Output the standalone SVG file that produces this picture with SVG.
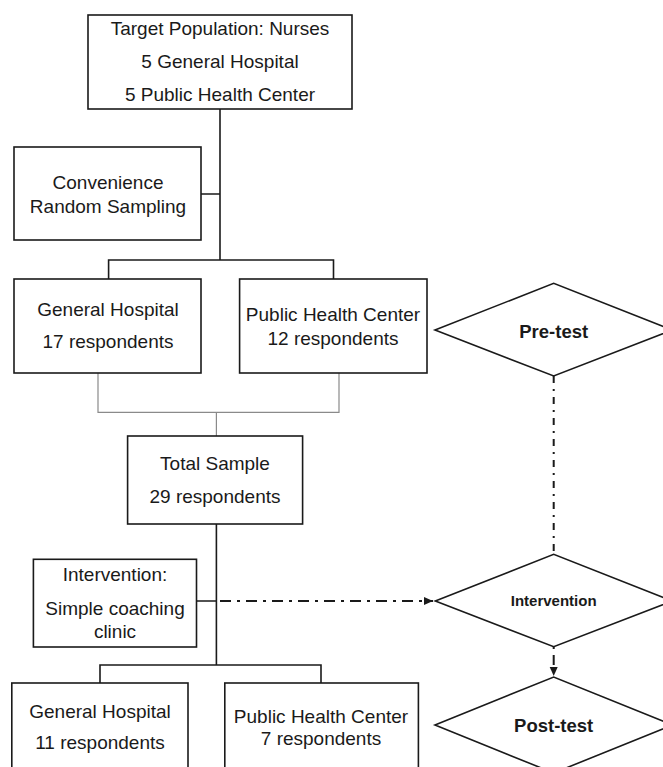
<svg xmlns="http://www.w3.org/2000/svg" width="663" height="767" viewBox="0 0 663 767">
<defs>
<style>
.box{fill:#fff;stroke:#1a1a1a;stroke-width:1.6}
.dia{fill:#fff;stroke:#1a1a1a;stroke-width:1.6}
.t{font-family:"Liberation Sans",Arial,sans-serif;font-size:19px;fill:#1a1a1a;text-anchor:middle}
.b{font-family:"Liberation Sans",Arial,sans-serif;font-weight:bold;font-size:18.5px;fill:#1a1a1a;text-anchor:middle}
.ln{fill:none;stroke:#1a1a1a;stroke-width:1.6}
.gl{fill:none;stroke:#8a8a8a;stroke-width:1.2}
.dd{fill:none;stroke:#1a1a1a;stroke-width:2;stroke-dasharray:11 6 3 6}
</style>
<marker id="ah" markerWidth="10" markerHeight="10" refX="9" refY="5" orient="auto" markerUnits="userSpaceOnUse">
<path d="M0,1 L9,5 L0,9 Z" fill="#1a1a1a"/>
</marker>
</defs>
<rect width="663" height="767" fill="#fff"/>
<g id="connectors">
<path class="ln" d="M220,109 V260 M201,194 H220 M108.6,279 V260 H333.5 V279"/>
<path class="gl" d="M98,373 V412.3 H339 V373 M216.4,412.3 V436"/>
<path class="ln" d="M216.4,524 V665 M196.5,601 H216.4 M100,683 V665 H321 V683"/>
<path class="dd" d="M553.7,376 V554" style="stroke-dasharray:7 6 2 6"/>
<path class="dd" d="M220,601 H433" marker-end="url(#ah)"/>
<path class="dd" d="M553.7,647 V676" style="stroke-dasharray:2 6 10 4" marker-end="url(#ah)"/>
</g>
<g id="target">
<rect class="box" x="88" y="15" width="264" height="94"/>
<text class="t" x="220" y="35">Target Population: Nurses</text>
<text class="t" x="220" y="68">5 General Hospital</text>
<text class="t" x="220" y="101">5 Public Health Center</text>
</g>
<g id="sampling">
<rect class="box" x="14" y="147" width="187" height="93"/>
<text class="t" x="108" y="189">Convenience</text>
<text class="t" x="108" y="213">Random Sampling</text>
</g>
<g id="gh1">
<rect class="box" x="14" y="279" width="187" height="94"/>
<text class="t" x="108" y="315.5">General Hospital</text>
<text class="t" x="108" y="348">17 respondents</text>
</g>
<g id="phc1">
<rect class="box" x="239.6" y="279" width="187.4" height="94"/>
<text class="t" x="333" y="320.5">Public Health Center</text>
<text class="t" x="333" y="344.5">12 respondents</text>
</g>
<g id="pretest">
<polygon class="dia" points="435,330 553.7,283.3 672.4,330 553.7,376"/>
<text class="b" x="553.7" y="337.5">Pre-test</text>
</g>
<g id="total">
<rect class="box" x="127.6" y="436" width="175" height="88"/>
<text class="t" x="215" y="470">Total Sample</text>
<text class="t" x="215" y="503">29 respondents</text>
</g>
<g id="intervention-box">
<rect class="box" x="33.4" y="559.3" width="163.1" height="87.7"/>
<text class="t" x="115" y="581">Intervention:</text>
<text class="t" x="115" y="615">Simple coaching</text>
<text class="t" x="115" y="637.5">clinic</text>
</g>
<g id="intervention">
<polygon class="dia" points="435.3,601 553.7,554.3 672.4,601 553.7,646.7"/>
<text class="b" x="553.7" y="606" style="font-size:15px">Intervention</text>
</g>
<g id="gh2">
<rect class="box" x="11.8" y="683" width="176.2" height="100"/>
<text class="t" x="100" y="718">General Hospital</text>
<text class="t" x="100" y="748.5">11 respondents</text>
</g>
<g id="phc2">
<rect class="box" x="224.8" y="683" width="193.6" height="100"/>
<text class="t" x="321" y="722.5">Public Health Center</text>
<text class="t" x="321" y="745">7 respondents</text>
</g>
<g id="posttest">
<polygon class="dia" points="435,725 553.7,677 672.4,725 553.7,773"/>
<text class="b" x="553.7" y="731.5">Post-test</text>
</g>
</svg>
